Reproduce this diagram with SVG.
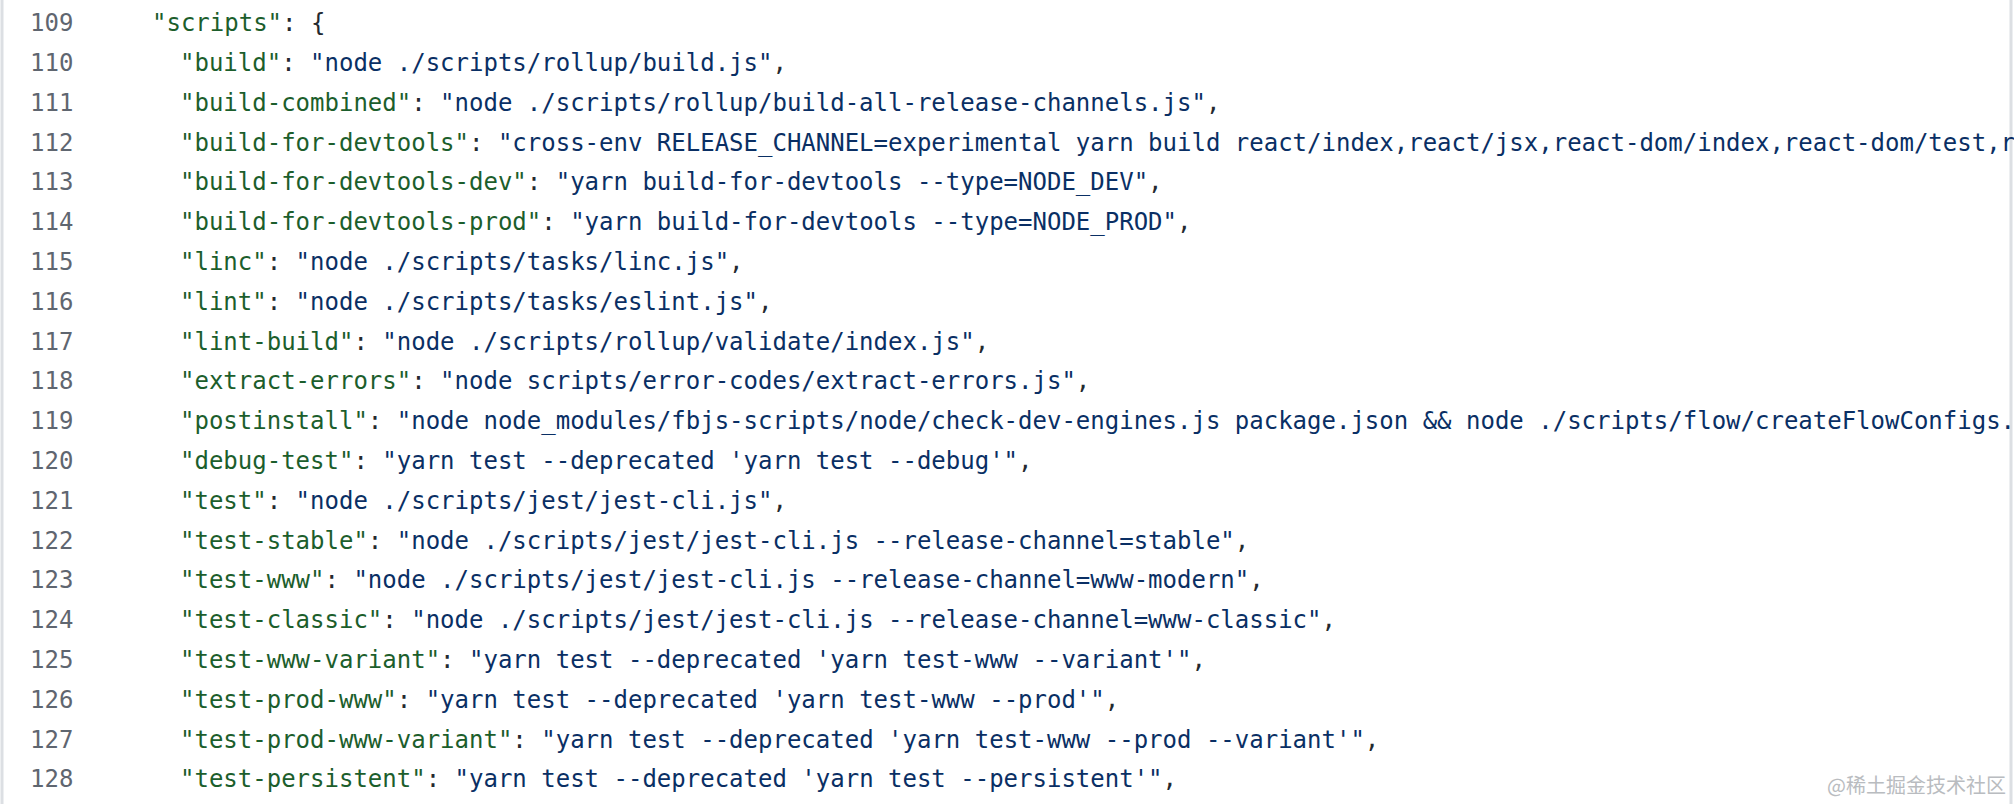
<svg xmlns="http://www.w3.org/2000/svg" width="2014" height="804" viewBox="0 0 2014 804">
<style>
text{font-family:"DejaVu Sans Mono","Liberation Mono",monospace;font-size:24px;white-space:pre}
.n{fill:#5f6670}
.c{fill:#24292f}
.k{fill:#1c5e2c}
.s{fill:#0a2f64}
.w{font-family:"Noto Sans CJK SC","Noto Sans",sans-serif;font-size:20px;fill:#b9bcc0}
</style>
<rect width="2014" height="804" fill="#ffffff"/>
<line x1="2" y1="0" x2="2" y2="804" stroke="#dcdfe3" stroke-width="3"/>
<line x1="2011" y1="0" x2="2011" y2="804" stroke="#dcdfe3" stroke-width="3"/>
<g id="gutter" class="n">
<text x="30" y="31" class="n">109</text>
<text x="30" y="71" class="n">110</text>
<text x="30" y="111" class="n">111</text>
<text x="30" y="151" class="n">112</text>
<text x="30" y="190" class="n">113</text>
<text x="30" y="230" class="n">114</text>
<text x="30" y="270" class="n">115</text>
<text x="30" y="310" class="n">116</text>
<text x="30" y="350" class="n">117</text>
<text x="30" y="389" class="n">118</text>
<text x="30" y="429" class="n">119</text>
<text x="30" y="469" class="n">120</text>
<text x="30" y="509" class="n">121</text>
<text x="30" y="549" class="n">122</text>
<text x="30" y="588" class="n">123</text>
<text x="30" y="628" class="n">124</text>
<text x="30" y="668" class="n">125</text>
<text x="30" y="708" class="n">126</text>
<text x="30" y="748" class="n">127</text>
<text x="30" y="787" class="n">128</text>
</g>
<g id="code">
<text x="152" y="31"><tspan class="k">"scripts"</tspan><tspan class="c">: {</tspan></text>
<text x="180" y="71"><tspan class="k">"build"</tspan><tspan class="c">: </tspan><tspan class="s">"node ./scripts/rollup/build.js"</tspan><tspan class="c">,</tspan></text>
<text x="180" y="111"><tspan class="k">"build-combined"</tspan><tspan class="c">: </tspan><tspan class="s">"node ./scripts/rollup/build-all-release-channels.js"</tspan><tspan class="c">,</tspan></text>
<text x="180" y="151"><tspan class="k">"build-for-devtools"</tspan><tspan class="c">: </tspan><tspan class="s">"cross-env RELEASE_CHANNEL=experimental yarn build react/index,react/jsx,react-dom/index,react-dom/test,r</tspan></text>
<text x="180" y="190"><tspan class="k">"build-for-devtools-dev"</tspan><tspan class="c">: </tspan><tspan class="s">"yarn build-for-devtools --type=NODE_DEV"</tspan><tspan class="c">,</tspan></text>
<text x="180" y="230"><tspan class="k">"build-for-devtools-prod"</tspan><tspan class="c">: </tspan><tspan class="s">"yarn build-for-devtools --type=NODE_PROD"</tspan><tspan class="c">,</tspan></text>
<text x="180" y="270"><tspan class="k">"linc"</tspan><tspan class="c">: </tspan><tspan class="s">"node ./scripts/tasks/linc.js"</tspan><tspan class="c">,</tspan></text>
<text x="180" y="310"><tspan class="k">"lint"</tspan><tspan class="c">: </tspan><tspan class="s">"node ./scripts/tasks/eslint.js"</tspan><tspan class="c">,</tspan></text>
<text x="180" y="350"><tspan class="k">"lint-build"</tspan><tspan class="c">: </tspan><tspan class="s">"node ./scripts/rollup/validate/index.js"</tspan><tspan class="c">,</tspan></text>
<text x="180" y="389"><tspan class="k">"extract-errors"</tspan><tspan class="c">: </tspan><tspan class="s">"node scripts/error-codes/extract-errors.js"</tspan><tspan class="c">,</tspan></text>
<text x="180" y="429"><tspan class="k">"postinstall"</tspan><tspan class="c">: </tspan><tspan class="s">"node node_modules/fbjs-scripts/node/check-dev-engines.js package.json &amp;&amp; node ./scripts/flow/createFlowConfigs.</tspan></text>
<text x="180" y="469"><tspan class="k">"debug-test"</tspan><tspan class="c">: </tspan><tspan class="s">"yarn test --deprecated 'yarn test --debug'"</tspan><tspan class="c">,</tspan></text>
<text x="180" y="509"><tspan class="k">"test"</tspan><tspan class="c">: </tspan><tspan class="s">"node ./scripts/jest/jest-cli.js"</tspan><tspan class="c">,</tspan></text>
<text x="180" y="549"><tspan class="k">"test-stable"</tspan><tspan class="c">: </tspan><tspan class="s">"node ./scripts/jest/jest-cli.js --release-channel=stable"</tspan><tspan class="c">,</tspan></text>
<text x="180" y="588"><tspan class="k">"test-www"</tspan><tspan class="c">: </tspan><tspan class="s">"node ./scripts/jest/jest-cli.js --release-channel=www-modern"</tspan><tspan class="c">,</tspan></text>
<text x="180" y="628"><tspan class="k">"test-classic"</tspan><tspan class="c">: </tspan><tspan class="s">"node ./scripts/jest/jest-cli.js --release-channel=www-classic"</tspan><tspan class="c">,</tspan></text>
<text x="180" y="668"><tspan class="k">"test-www-variant"</tspan><tspan class="c">: </tspan><tspan class="s">"yarn test --deprecated 'yarn test-www --variant'"</tspan><tspan class="c">,</tspan></text>
<text x="180" y="708"><tspan class="k">"test-prod-www"</tspan><tspan class="c">: </tspan><tspan class="s">"yarn test --deprecated 'yarn test-www --prod'"</tspan><tspan class="c">,</tspan></text>
<text x="180" y="748"><tspan class="k">"test-prod-www-variant"</tspan><tspan class="c">: </tspan><tspan class="s">"yarn test --deprecated 'yarn test-www --prod --variant'"</tspan><tspan class="c">,</tspan></text>
<text x="180" y="787"><tspan class="k">"test-persistent"</tspan><tspan class="c">: </tspan><tspan class="s">"yarn test --deprecated 'yarn test --persistent'"</tspan><tspan class="c">,</tspan></text>
</g>
<text x="2006" y="793" text-anchor="end" class="w">@稀土掘金技术社区</text>
</svg>
